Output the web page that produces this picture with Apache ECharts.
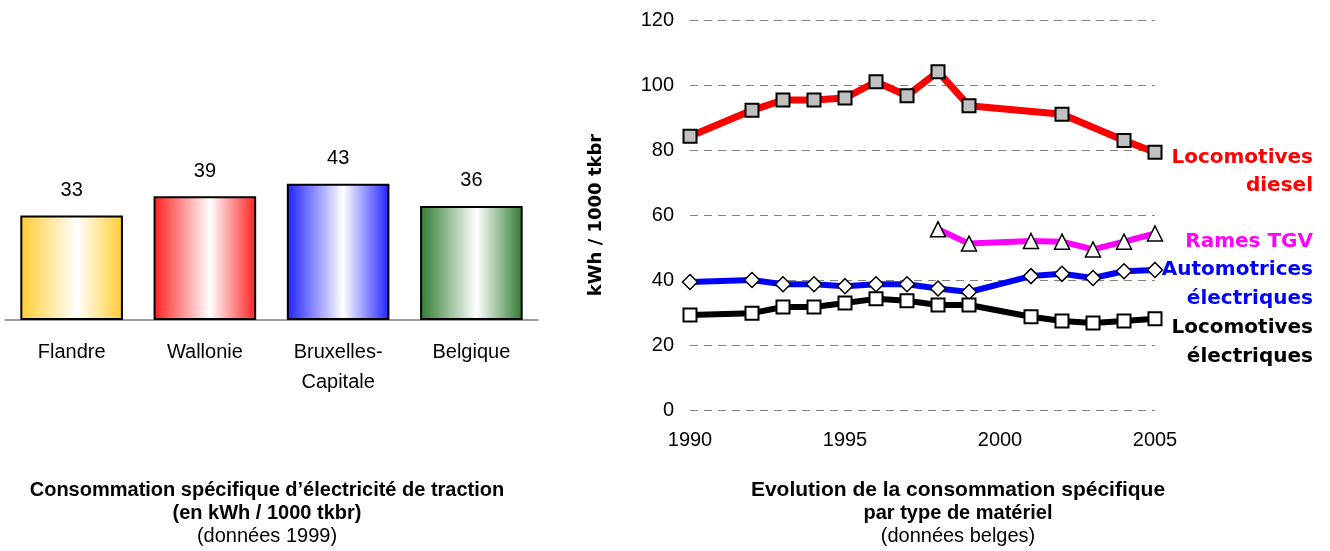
<!DOCTYPE html>
<html>
<head>
<meta charset="utf-8">
<script src="https://cdn.jsdelivr.net/npm/echarts@6/dist/echarts.min.js"></script>
<style>html,body{margin:0;padding:0;background:#fff;}#c{width:1330px;height:551px;}</style>
</head>
<body>
<div id="c"></div>
<script>
// ---- Data: left bar chart (1999) ----
const barCategories = ['Flandre', 'Wallonie', 'Bruxelles-\nCapitale', 'Belgique'];
const barValues = [33, 39, 43, 36];
const barColors = ['#FFCC33', '#FF2020', '#2020FF', '#2E7A2E'];

// ---- Data: right line chart (kWh / 1000 tkbr) ----
const dieselYears = [1990, 1992, 1993, 1994, 1995, 1996, 1997, 1998, 1999, 2002, 2004, 2005];
const dieselValues = [84.2, 92.2, 95.4, 95.4, 96.0, 101.0, 96.7, 104.1, 93.6, 91.0, 82.9, 79.3];
const tgvYears = [1998, 1999, 2001, 2002, 2003, 2004, 2005];
const tgvValues = [55.6, 51.2, 52.0, 51.8, 49.4, 51.8, 54.3];
const autoYears = [1990, 1992, 1993, 1994, 1995, 1996, 1997, 1998, 1999, 2001, 2002, 2003, 2004, 2005];
const autoValues = [39.4, 40.0, 38.7, 38.7, 38.1, 38.7, 38.7, 37.4, 36.3, 41.2, 41.9, 40.6, 42.7, 43.1];
const locoYears = [1990, 1992, 1993, 1994, 1995, 1996, 1997, 1998, 1999, 2001, 2002, 2003, 2004, 2005];
const locoValues = [29.2, 29.8, 31.7, 31.7, 32.9, 34.2, 33.6, 32.3, 32.3, 28.7, 27.4, 26.8, 27.4, 28.1];
const yTicks = [0, 20, 40, 60, 80, 100, 120];
const xTicks = [1990, 1995, 2000, 2005];

const FONT = "'Liberation Sans', Arial, sans-serif";
const BOLDFONT = "'DejaVu Sans', 'Liberation Sans', sans-serif";

function pairs(xs, ys) { return xs.map((x, i) => [x, ys[i]]); }
function grad(c) {
  return new echarts.graphic.LinearGradient(0, 0, 1, 0, [
    { offset: 0, color: c },
    { offset: 0.55, color: '#ffffff' },
    { offset: 1, color: c }
  ]);
}

const chart = echarts.init(document.getElementById('c'), null, { renderer: 'canvas' });

const option = {
  animation: false,
  backgroundColor: '#ffffff',
  textStyle: { fontFamily: FONT },
  grid: [
    { left: 5, top: 3, width: 533, height: 317 },
    { left: 690, top: 20, width: 465, height: 390 }
  ],
  xAxis: [
    {
      gridIndex: 0, type: 'category', data: barCategories,
      axisLine: { lineStyle: { color: '#808080', width: 1.5 } },
      axisTick: { show: false },
      axisLabel: { color: '#000', fontSize: 20, lineHeight: 30, margin: 17, fontFamily: FONT, interval: 0 }
    },
    {
      gridIndex: 1, type: 'value', min: xTicks[0], max: xTicks[xTicks.length - 1], interval: 5,
      axisLine: { show: false }, axisTick: { show: false }, splitLine: { show: false },
      axisLabel: { color: '#000', fontSize: 20, margin: 20, fontFamily: FONT, formatter: v => String(v) }
    }
  ],
  yAxis: [
    { gridIndex: 0, type: 'value', min: 0, max: 100, show: false },
    {
      gridIndex: 1, type: 'value', min: yTicks[0], max: yTicks[yTicks.length - 1], interval: 20,
      axisLine: { show: false }, axisTick: { show: false },
      axisLabel: { color: '#000', fontSize: 20, margin: 16, fontFamily: FONT },
      splitLine: { show: true, lineStyle: { color: '#808080', width: 1, type: [8, 6] } },
      name: 'kWh / 1000 tkbr', nameLocation: 'middle', nameGap: 85,
      nameTextStyle: { color: '#000', fontSize: 18, fontWeight: 'bold', fontFamily: BOLDFONT }
    }
  ],
  series: [
    {
      type: 'bar', xAxisIndex: 0, yAxisIndex: 0, barCategoryGap: '23%',
      data: barValues.map((v, i) => ({
        value: v,
        itemStyle: { color: grad(barColors[i]), borderColor: '#000', borderWidth: 2 }
      })),
      label: { show: true, position: 'top', distance: 15, color: '#000', fontSize: 20, fontFamily: FONT }
    },
    {
      name: 'Locomotives diesel', type: 'line', xAxisIndex: 1, yAxisIndex: 1,
      data: pairs(dieselYears, dieselValues),
      lineStyle: { color: '#FF0000', width: 7 },
      symbol: 'rect', symbolSize: 13,
      itemStyle: { color: '#C0C0C0', borderColor: '#000', borderWidth: 2 },
      z: 3
    },
    {
      name: 'Rames TGV', type: 'line', xAxisIndex: 1, yAxisIndex: 1,
      data: pairs(tgvYears, tgvValues),
      lineStyle: { color: '#FF00FF', width: 6 },
      symbol: 'triangle', symbolSize: 15,
      itemStyle: { color: '#fff', borderColor: '#000', borderWidth: 1.5 },
      z: 3
    },
    {
      name: 'Automotrices électriques', type: 'line', xAxisIndex: 1, yAxisIndex: 1,
      data: pairs(autoYears, autoValues),
      lineStyle: { color: '#0000FF', width: 6 },
      symbol: 'diamond', symbolSize: 15,
      itemStyle: { color: '#fff', borderColor: '#000', borderWidth: 1.5 },
      z: 3
    },
    {
      name: 'Locomotives électriques', type: 'line', xAxisIndex: 1, yAxisIndex: 1,
      data: pairs(locoYears, locoValues),
      lineStyle: { color: '#000000', width: 6 },
      symbol: 'rect', symbolSize: 13,
      itemStyle: { color: '#fff', borderColor: '#000', borderWidth: 2 },
      z: 3
    }
  ],
  graphic: [
    { type: 'text', x: 1313, y: 158, style: { text: 'Locomotives', align: 'right', verticalAlign: 'middle', fill: '#FF0000', font: 'bold 20px ' + BOLDFONT } },
    { type: 'text', x: 1313, y: 186, style: { text: 'diesel', align: 'right', verticalAlign: 'middle', fill: '#FF0000', font: 'bold 20px ' + BOLDFONT } },
    { type: 'text', x: 1313, y: 242, style: { text: 'Rames TGV', align: 'right', verticalAlign: 'middle', fill: '#FF00FF', font: 'bold 20px ' + BOLDFONT } },
    { type: 'text', x: 1313, y: 270, style: { text: 'Automotrices', align: 'right', verticalAlign: 'middle', fill: '#0000FF', font: 'bold 20px ' + BOLDFONT } },
    { type: 'text', x: 1313, y: 299, style: { text: 'électriques', align: 'right', verticalAlign: 'middle', fill: '#0000FF', font: 'bold 20px ' + BOLDFONT } },
    { type: 'text', x: 1313, y: 328, style: { text: 'Locomotives', align: 'right', verticalAlign: 'middle', fill: '#000000', font: 'bold 20px ' + BOLDFONT } },
    { type: 'text', x: 1313, y: 357, style: { text: 'électriques', align: 'right', verticalAlign: 'middle', fill: '#000000', font: 'bold 20px ' + BOLDFONT } },
    {
      type: 'text', x: 267, y: 479,
      style: {
        text: '{b|Consommation spécifique d’électricité de traction}\n{b|(en kWh / 1000 tkbr)}\n{r|(données 1999)}',
        align: 'center', verticalAlign: 'top', fill: '#000',
        rich: {
          b: { fontSize: 20, fontWeight: 'bold', fontFamily: FONT, lineHeight: 23, align: 'center' },
          r: { fontSize: 20, fontFamily: FONT, lineHeight: 23, align: 'center' }
        }
      }
    },
    {
      type: 'text', x: 958, y: 479,
      style: {
        text: '{t|Evolution de la consommation spécifique}\n{b|par type de matériel}\n{r|(données belges)}',
        align: 'center', verticalAlign: 'top', fill: '#000',
        rich: {
          t: { fontSize: 21, fontWeight: 'bold', fontFamily: FONT, lineHeight: 23, align: 'center' },
          b: { fontSize: 20, fontWeight: 'bold', fontFamily: FONT, lineHeight: 23, align: 'center' },
          r: { fontSize: 20, fontFamily: FONT, lineHeight: 23, align: 'center' }
        }
      }
    }
  ]
};
chart.setOption(option);
</script>
</body>
</html>
